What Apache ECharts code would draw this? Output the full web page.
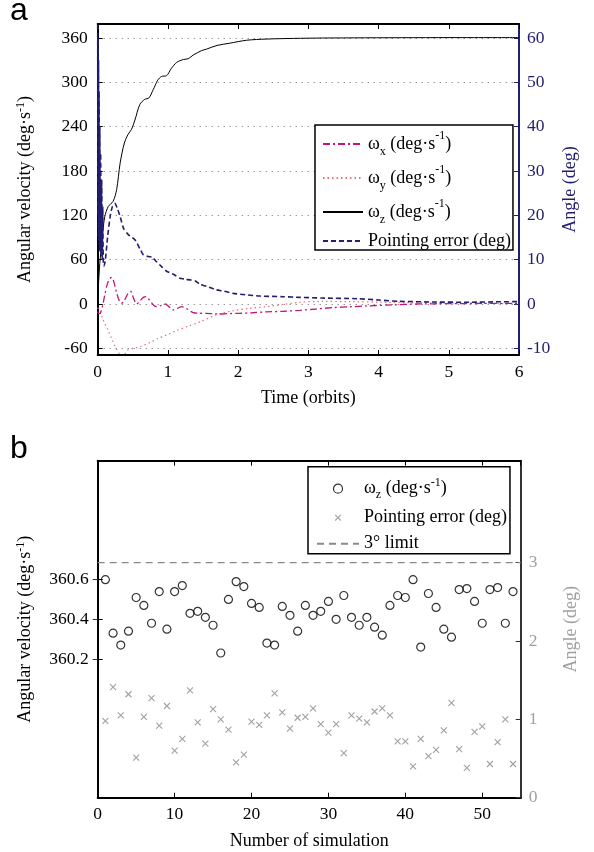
<!DOCTYPE html>
<html><head><meta charset="utf-8">
<script src="https://cdn.jsdelivr.net/npm/echarts@6/dist/echarts.min.js"></script>
<style>html,body{margin:0;padding:0;background:#fff}#c{width:594px;height:852px}</style>
</head><body><div id="c"></div>
<script>
// ---------- Panel a data ----------
const timeTicksA = [0, 1, 2, 3, 4, 5, 6];
const velTicksA = [-60, 0, 60, 120, 180, 240, 300, 360];
const angTicksA = [-10, 0, 10, 20, 30, 40, 50, 60];

const tWz = [0, 0.01, 0.03, 0.057, 0.08, 0.1, 0.15, 0.22, 0.27, 0.32, 0.38, 0.435, 0.48, 0.53, 0.6, 0.67, 0.73, 0.79, 0.855, 0.91, 0.98, 1.05, 1.125, 1.22, 1.29, 1.36, 1.48, 1.55, 1.7, 1.88, 2.12, 2.4, 2.79, 3.2, 3.8, 4.5, 5.2, 6];
const wz   = [0, 24, 55, 82, 104, 118, 132, 139, 155, 191, 218, 230, 236, 249, 270, 277, 279, 290, 303, 308, 309, 319, 327, 331, 332, 337, 343, 345, 350, 353, 357, 358.6, 359.5, 360, 360.3, 360.5, 360.6, 360.6];

const tWx = [0, 0.02, 0.04, 0.07, 0.1, 0.14, 0.18, 0.2, 0.23, 0.27, 0.31, 0.34, 0.38, 0.43, 0.47, 0.51, 0.555, 0.6, 0.65, 0.69, 0.74, 0.8, 0.84, 0.9, 0.96, 1.02, 1.07, 1.13, 1.2, 1.28, 1.36, 1.45, 1.55, 1.65, 1.74, 1.85, 2.02, 2.2, 2.4, 2.65, 2.88, 3.1, 3.35, 3.6, 3.83, 4.2, 4.54, 5, 5.5, 6];
const wx   = [-10, -13, -12, -2, 12, 28, 35, 36, 30, 15, 4, 1, 5, 14, 17, 8, 0, 4, 9, 10, 5, -2, -3.6, -2, 0, -4, -8, -6, -3.6, -7, -11.7, -12.5, -12.6, -13.2, -13.5, -13, -12.6, -11.8, -10.7, -9.8, -8.6, -6.8, -4.9, -3.7, -2.6, -1.2, 0, 0.5, 0.8, 1];

const tWy = [0, 0.03, 0.06, 0.1, 0.15, 0.2, 0.25, 0.3, 0.35, 0.39, 0.43, 0.5, 0.6, 0.74, 0.85, 0.98, 1.12, 1.27, 1.46, 1.69, 1.93, 2.15, 2.4, 2.65, 2.88, 3.2, 3.6, 4, 4.5, 5, 5.5, 6];
const wy   = [-5, -10, -17, -26, -36, -47, -58, -66, -71, -67, -62, -60, -57.7, -52.3, -47, -42, -36, -30.6, -24, -14.8, -9, -6, -3.6, -0.5, 2.4, 3.5, 3.2, 2.5, 1.8, 1.2, 0.8, 0.5];

const tPe = [0, 0.003, 0.006, 0.009, 0.012, 0.016, 0.02, 0.025, 0.03, 0.036, 0.042, 0.05, 0.057, 0.065, 0.072, 0.08, 0.09, 0.11, 0.14, 0.18, 0.21, 0.246, 0.28, 0.32, 0.37, 0.44, 0.53, 0.6, 0.65, 0.72, 0.77, 0.84, 0.91, 0.98, 1.09, 1.17, 1.24, 1.33, 1.39, 1.46, 1.55, 1.69, 1.8, 1.93, 2.1, 2.31, 2.64, 2.88, 3.2, 3.7, 4.0, 4.3, 4.8, 5.3, 5.7, 6];
const pe   = [63, 20, 60, 15, 55, 14, 48, 12, 40, 12, 34, 11, 28, 10, 22, 9, 8.6, 10, 15, 20, 22, 22.7, 21.5, 19.7, 17, 15.6, 14.5, 12.5, 11.1, 10.7, 10.6, 9.5, 8.45, 7.4, 6.6, 5.8, 5.6, 5.4, 5.2, 4.4, 4.0, 3.2, 2.9, 2.4, 2.1, 1.8, 1.65, 1.5, 1.35, 1.2, 0.9, 0.6, 0.45, 0.4, 0.5, 0.55];

// ---------- Panel b data ----------
const simTicks = [0, 10, 20, 30, 40, 50];
const velTicksB = [360.2, 360.4, 360.6];
const angTicksB = [0, 1, 2, 3];
const simNo = [1,2,3,4,5,6,7,8,9,10,11,12,13,14,15,16,17,18,19,20,21,22,23,24,25,26,27,28,29,30,31,32,33,34,35,36,37,38,39,40,41,42,43,44,45,46,47,48,49,50,51,52,53,54];
const wzSim = [360.60,360.33,360.27,360.34,360.51,360.47,360.38,360.54,360.35,360.54,
               360.57,360.43,360.44,360.41,360.37,360.23,360.50,360.59,360.565,360.48,
               360.46,360.28,360.27,360.465,360.42,360.34,360.47,360.42,360.44,360.49,
               360.40,360.52,360.41,360.37,360.41,360.36,360.32,360.47,360.52,360.51,
               360.60,360.26,360.53,360.46,360.35,360.31,360.55,360.555,360.49,360.38,
               360.55,360.56,360.38,360.54];
const peSim = [0.98,1.41,1.05,1.32,0.51,1.03,1.27,0.92,1.17,0.60,
               0.75,1.37,0.96,0.69,1.13,1.00,0.87,0.45,0.55,0.97,
               0.93,1.05,1.33,1.09,0.88,1.02,1.03,1.14,0.94,0.83,
               0.94,0.57,1.05,1.01,0.96,1.10,1.14,1.05,0.72,0.72,
               0.40,0.75,0.53,0.61,0.86,1.21,0.62,0.38,0.84,0.91,
               0.43,0.71,1.00,0.43];
const limitDeg = [3];
const limitSpan = [0, 55];

// ---------- build ----------
const F = 'Liberation Serif';
const NAVY = '#211d70';
const GRAY = '#8a8a8a';
const NONE = 'rgba(0,0,0,0)';
const TICK_FS = 17.5;
const pair = (xs, ys) => xs.map((x, i) => [x, ys[i]]);

function richSet(color, lh) {
  return {
    w:   {fontFamily: F, fontSize: 18, color: color, lineHeight: lh},
    sub: {fontFamily: F, fontSize: 12, color: color, lineHeight: 13, verticalAlign: 'bottom'},
    sup: {fontFamily: F, fontSize: 12, color: color, lineHeight: Math.round(lh * 0.72), verticalAlign: 'top'}
  };
}
const legendNames = {
  wx: '{w|ω}{sub|x}{w| (deg·s}{sup|-1}{w|)}',
  wy: '{w|ω}{sub|y}{w| (deg·s}{sup|-1}{w|)}',
  wz: '{w|ω}{sub|z}{w| (deg·s}{sup|-1}{w|)}',
  pe: '{w|Pointing error (deg)}',
  wzb: '{w|ω}{sub|z}{w| (deg·s}{sup|-1}{w|)}',
  peb: '{w|Pointing error (deg)}',
  lim: '{w|3° limit}'
};
const XPATH = 'path://M0,0L10,10M10,0L0,10';
const XICON = 'path://M-3,-3L-2.99,-3M0,0L10,10M10,0L0,10M13,13L13.01,13';

function xAx(grid, min, max, interval, pos, labels, name, gap) {
  return {
    gridIndex: grid, type: 'value', min: min, max: max, interval: interval, position: pos,
    axisLine: {show: true, onZero: false, lineStyle: {color: '#000', width: 2}},
    axisTick: {show: true, inside: true, length: 5, lineStyle: {color: '#000', width: 1}},
    axisLabel: {show: labels, color: '#000', fontFamily: F, fontSize: TICK_FS, margin: 8, showMaxLabel: max === 6},
    splitLine: {show: false},
    name: name || '', nameLocation: 'middle', nameGap: gap || 30,
    nameTextStyle: {color: '#000', fontFamily: F, fontSize: 18}
  };
}

const option = {
  animation: false,
  backgroundColor: '#fff',
  title: [
    {text: 'a', left: 10, top: -5, padding: 0, textStyle: {fontFamily: 'Liberation Sans', fontSize: 32, fontWeight: 'normal', color: '#000'}},
    {text: 'b', left: 10, top: 433, padding: 0, textStyle: {fontFamily: 'Liberation Sans', fontSize: 32, fontWeight: 'normal', color: '#000'}}
  ],
  grid: [
    {left: 97.7, top: 24, width: 421.3, height: 331},
    {left: 97.7, top: 460.7, width: 423, height: 337}
  ],
  xAxis: [
    xAx(0, 0, 6, 1, 'bottom', true, 'Time (orbits)', 34),
    xAx(0, 0, 6, 1, 'top', false),
    xAx(1, 0, 55, 10, 'bottom', true, 'Number of simulation', 35),
    xAx(1, 0, 55, 10, 'top', false)
  ],
  yAxis: [
    {
      gridIndex: 0, type: 'value', min: -69, max: 379, position: 'left',
      axisLine: {show: true, onZero: false, lineStyle: {color: '#000', width: 2}},
      axisTick: {show: true, inside: true, length: 5, customValues: velTicksA, lineStyle: {color: '#000'}},
      axisLabel: {customValues: velTicksA, color: '#000', fontFamily: F, fontSize: TICK_FS, margin: 10},
      splitLine: {show: true, lineStyle: {color: '#666', width: 1, type: [1, 5]}},
      name: '{w|Angular velocity (deg·s}{sup|-1}{w|)}', nameLocation: 'middle', nameGap: 61,
      nameTextStyle: {rich: richSet('#000', 22)}
    },
    {
      gridIndex: 0, type: 'value', min: -11.5, max: 379 / 6, position: 'right',
      axisLine: {show: true, onZero: false, lineStyle: {color: NAVY, width: 2}},
      axisTick: {show: true, inside: true, length: 5, customValues: angTicksA, lineStyle: {color: NAVY}},
      axisLabel: {customValues: angTicksA, color: NAVY, fontFamily: F, fontSize: TICK_FS, margin: 8},
      splitLine: {show: false},
      name: 'Angle (deg)', nameLocation: 'middle', nameGap: 42,
      nameTextStyle: {color: NAVY, fontFamily: F, fontSize: 18}
    },
    {
      gridIndex: 1, type: 'value', min: 359.5, max: 361.2, position: 'left',
      axisLine: {show: true, onZero: false, lineStyle: {color: '#000', width: 2}},
      axisTick: {show: true, inside: true, length: 5, customValues: velTicksB, lineStyle: {color: '#000'}},
      axisLabel: {customValues: velTicksB, color: '#000', fontFamily: F, fontSize: TICK_FS, margin: 9, formatter: v => v.toFixed(1)},
      splitLine: {show: false},
      name: '{w|Angular velocity (deg·s}{sup|-1}{w|)}', nameLocation: 'middle', nameGap: 61,
      nameTextStyle: {rich: richSet('#000', 22)}
    },
    {
      gridIndex: 1, type: 'value', min: 0, max: 4.3, position: 'right',
      axisLine: {show: true, onZero: false, lineStyle: {color: '#333', width: 2}},
      axisTick: {show: true, inside: true, length: 5, customValues: angTicksB, lineStyle: {color: '#333'}},
      axisLabel: {customValues: angTicksB, color: '#a0a0a0', fontFamily: F, fontSize: TICK_FS, margin: 8},
      splitLine: {show: false},
      name: 'Angle (deg)', nameLocation: 'middle', nameGap: 42,
      nameTextStyle: {color: '#a0a0a0', fontFamily: F, fontSize: 18}
    },
    {
      gridIndex: 1, type: 'value', min: 359.5, max: 361.2, position: 'right',
      axisLine: {show: false},
      axisTick: {show: true, inside: true, length: 5, customValues: velTicksB, lineStyle: {color: '#333'}},
      axisLabel: {show: false},
      splitLine: {show: false}
    }
  ],
  legend: [
    {
      data: ['wx', 'wy', 'wz', 'pe'], orient: 'vertical', left: 315, top: 125,
      padding: [5, 2, 0, 7], itemGap: 6, itemWidth: 40, itemHeight: 14,
      backgroundColor: '#fff', borderColor: '#000', borderWidth: 1.5, borderRadius: 0,
      selectedMode: false,
      formatter: n => legendNames[n],
      textStyle: {rich: richSet('#000', 28)}
    },
    {
      data: [
        {name: 'wzb', icon: 'circle', itemStyle: {color: NONE, borderColor: '#000', borderWidth: 1.2}},
        {name: 'peb', icon: XICON, itemStyle: {color: NONE, borderColor: GRAY, borderWidth: 1.1}},
        {name: 'lim'}
      ],
      orient: 'vertical', left: 308, top: 466.7,
      padding: [10, 3, 1, 8], itemGap: 8, itemWidth: 42, itemHeight: 9,
      backgroundColor: '#fff', borderColor: '#000', borderWidth: 1.5, borderRadius: 0,
      selectedMode: false,
      formatter: n => legendNames[n],
      textStyle: {rich: richSet('#000', 24)}
    }
  ],
  series: [
    {name: 'wy', type: 'line', xAxisIndex: 0, yAxisIndex: 0, data: pair(tWy, wy), symbol: 'none', smooth: 0.3,
     lineStyle: {color: '#e8707e', width: 1.2, type: [1.5, 3]}, itemStyle: {color: NONE}},
    {name: 'wx', type: 'line', xAxisIndex: 0, yAxisIndex: 0, data: pair(tWx, wx), symbol: 'none', smooth: 0.3,
     lineStyle: {color: '#c4147a', width: 1.3, type: [7, 3, 2, 3]}, itemStyle: {color: NONE}},
    {name: 'wz', type: 'line', xAxisIndex: 0, yAxisIndex: 0, data: pair(tWz, wz), symbol: 'none', smooth: 0.3,
     lineStyle: {color: '#000', width: 1}, itemStyle: {color: NONE}},
    {name: 'pe', type: 'line', xAxisIndex: 0, yAxisIndex: 1, data: pair(tPe, pe), symbol: 'none', smooth: 0.2,
     lineStyle: {color: NAVY, width: 1.6, type: [5, 3]}, itemStyle: {color: NONE}},

    {name: 'wzb', type: 'scatter', xAxisIndex: 2, yAxisIndex: 2, data: pair(simNo, wzSim), symbol: 'circle', symbolSize: 8,
     itemStyle: {color: NONE, borderColor: '#000', borderWidth: 1.2}},
    {name: 'peb', type: 'scatter', xAxisIndex: 2, yAxisIndex: 3, data: pair(simNo, peSim), symbol: XPATH, symbolSize: 6,
     itemStyle: {color: NONE, borderColor: GRAY, borderWidth: 1.1}},
    {name: 'lim', type: 'line', xAxisIndex: 2, yAxisIndex: 3, data: limitSpan.map(x => [x, limitDeg[0]]), symbol: 'none',
     lineStyle: {color: GRAY, width: 1.2, type: [7, 5]}, itemStyle: {color: NONE}}
  ]
};
const chart = echarts.init(document.getElementById('c'), null, {renderer: 'canvas'});
chart.setOption(option);
</script></body></html>
